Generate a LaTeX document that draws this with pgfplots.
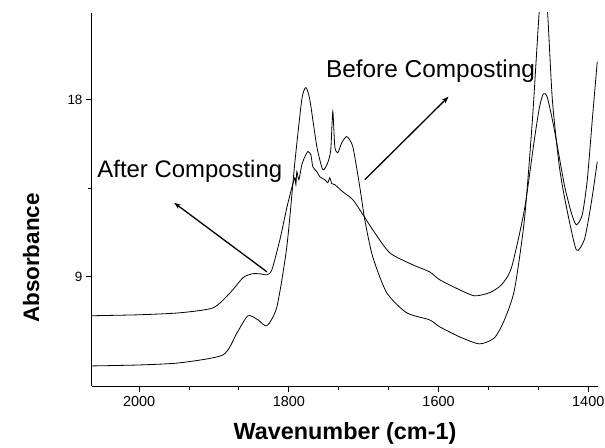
\documentclass[border=0pt]{standalone}
\usepackage{pgfplots}
\pgfplotsset{compat=1.18}
\usepackage{fontspec}
\setmainfont{Liberation Sans}
\usetikzlibrary{arrows.meta}
\begin{document}
\begin{tikzpicture}
\useasboundingbox (-92bp,-62bp) rectangle (513bp,386bp);
\begin{axis}[
  at={(0,0)}, anchor=south west,
  scale only axis, width=506bp, height=373bp,
  x dir=reverse,
  xmin=1387, xmax=2063, ymin=3.45, ymax=22.4,
  axis x line=bottom, axis y line=left,
  axis line style={-, line width=1bp},
  xtick={2000,1800,1600,1400}, ytick={9,18},
  minor x tick num=2, minor y tick num=1,
  tick align=outside,
  major tick length=6bp, minor tick length=4bp,
  every tick/.style={black, line width=1bp},
  /pgf/number format/assume math mode=true,
  /pgf/number format/1000 sep={},
  x tick label style={font=\fontsize{14.5}{14.5}\selectfont, yshift=-1bp},
  y tick label style={font=\fontsize{13.5}{13.5}\selectfont},
  xlabel={Wavenumber (cm-1)},
  ylabel={Absorbance},
  xlabel style={font=\fontsize{23.5}{23.5}\selectfont\bfseries, at={(axis description cs:0.5,0)}, anchor=center, yshift=-47bp},
  ylabel style={font=\fontsize{22.5}{22.5}\selectfont\bfseries, at={(axis description cs:0,0.343)}, anchor=center, yshift=61bp},
  clip=true,
]
% Before composting (lower baseline)
\addplot[black, line width=0.8bp, smooth, tension=0.4] coordinates {
(2062.7,4.47) (1998.7,4.52) (1945.3,4.63) (1888,5.03) (1869.3,6.15) (1854.7,7.02)
(1841.3,6.81) (1829.3,6.51) (1816,7.47) (1802.7,10.53) (1792,14.8) (1782.7,18.0)
(1777.3,18.61) (1772,18.0) (1762.6,15.61) (1754.6,14.44) (1748,14.8) (1744,15.46)
(1741.3,17.39) (1738.6,15.61) (1734.6,15.3) (1729.3,15.81) (1722.6,16.12) (1714.6,15.61)
(1705.3,13.58) (1698.6,11.9) (1688,10.02) (1669.3,8.19) (1642.6,7.17) (1612,6.81)
(1598.6,6.46) (1572,5.95) (1545.3,5.59) (1525.3,5.9) (1512,6.81) (1498.6,8.34)
(1485.3,11.9) (1474.6,16.98) (1465.3,22.58) (1460,24.1) (1454.6,22.58) (1448,18.0)
(1438.6,14.59) (1429.3,12.56) (1416,10.37) (1405.3,10.88) (1398.6,12.15) (1393.3,13.42)
(1388,14.85)
};
% After composting (upper baseline)
\addplot[black, line width=0.8bp, smooth, tension=0.4] coordinates {
(2062.7,7.02) (1998.7,7.07) (1945.3,7.17) (1901.3,7.42) (1878.6,8.18) (1861.3,8.95)
(1849.3,9.15) (1838.6,9.15) (1829.3,9.1) (1822.6,9.36) (1812,10.88) (1802.7,12.51)
(1796,13.53) (1792,14.03) (1790.6,13.68) (1789.3,14.34) (1786.6,13.93) (1782.6,14.7)
(1778.6,15.1) (1774.6,15.36) (1770.6,15.2) (1768,14.59) (1762.6,14.34) (1758.6,14.08)
(1752,13.93) (1748,13.78) (1745.3,14.03) (1742.6,13.73) (1738.6,13.68) (1728,13.32)
(1714.6,12.92) (1702.6,12.25) (1688,11.39) (1665.3,10.22) (1634.6,9.61) (1612,9.25)
(1598.6,8.85) (1572,8.34) (1552,8.03) (1532,8.19) (1516,8.59) (1502.6,9.46)
(1485.3,12.41) (1472,15.97) (1465.3,17.59) (1460,18.3) (1454.6,18.1) (1445.3,16.47)
(1432,13.68) (1422.6,12.25) (1416,11.64) (1408,12.15) (1401.3,13.93) (1394.6,16.98)
(1388,19.93)
};
\node[anchor=west, inner sep=0pt, font=\fontsize{24}{24}\selectfont] at (axis cs:2056,14.34) {After Composting};
\node[anchor=west, inner sep=0pt, font=\fontsize{24.5}{24.5}\selectfont] at (axis cs:1750.6,19.42) {Before Composting};
\draw[line width=1.3bp, -{Stealth[length=7bp,width=5bp]}] (axis cs:1829.3,9.25) -- (axis cs:1953.3,12.76);
\draw[line width=1.3bp, -{Stealth[length=7bp,width=5bp]}] (axis cs:1698.6,13.93) -- (axis cs:1586.7,18.15);
\end{axis}
\end{tikzpicture}
\end{document}
